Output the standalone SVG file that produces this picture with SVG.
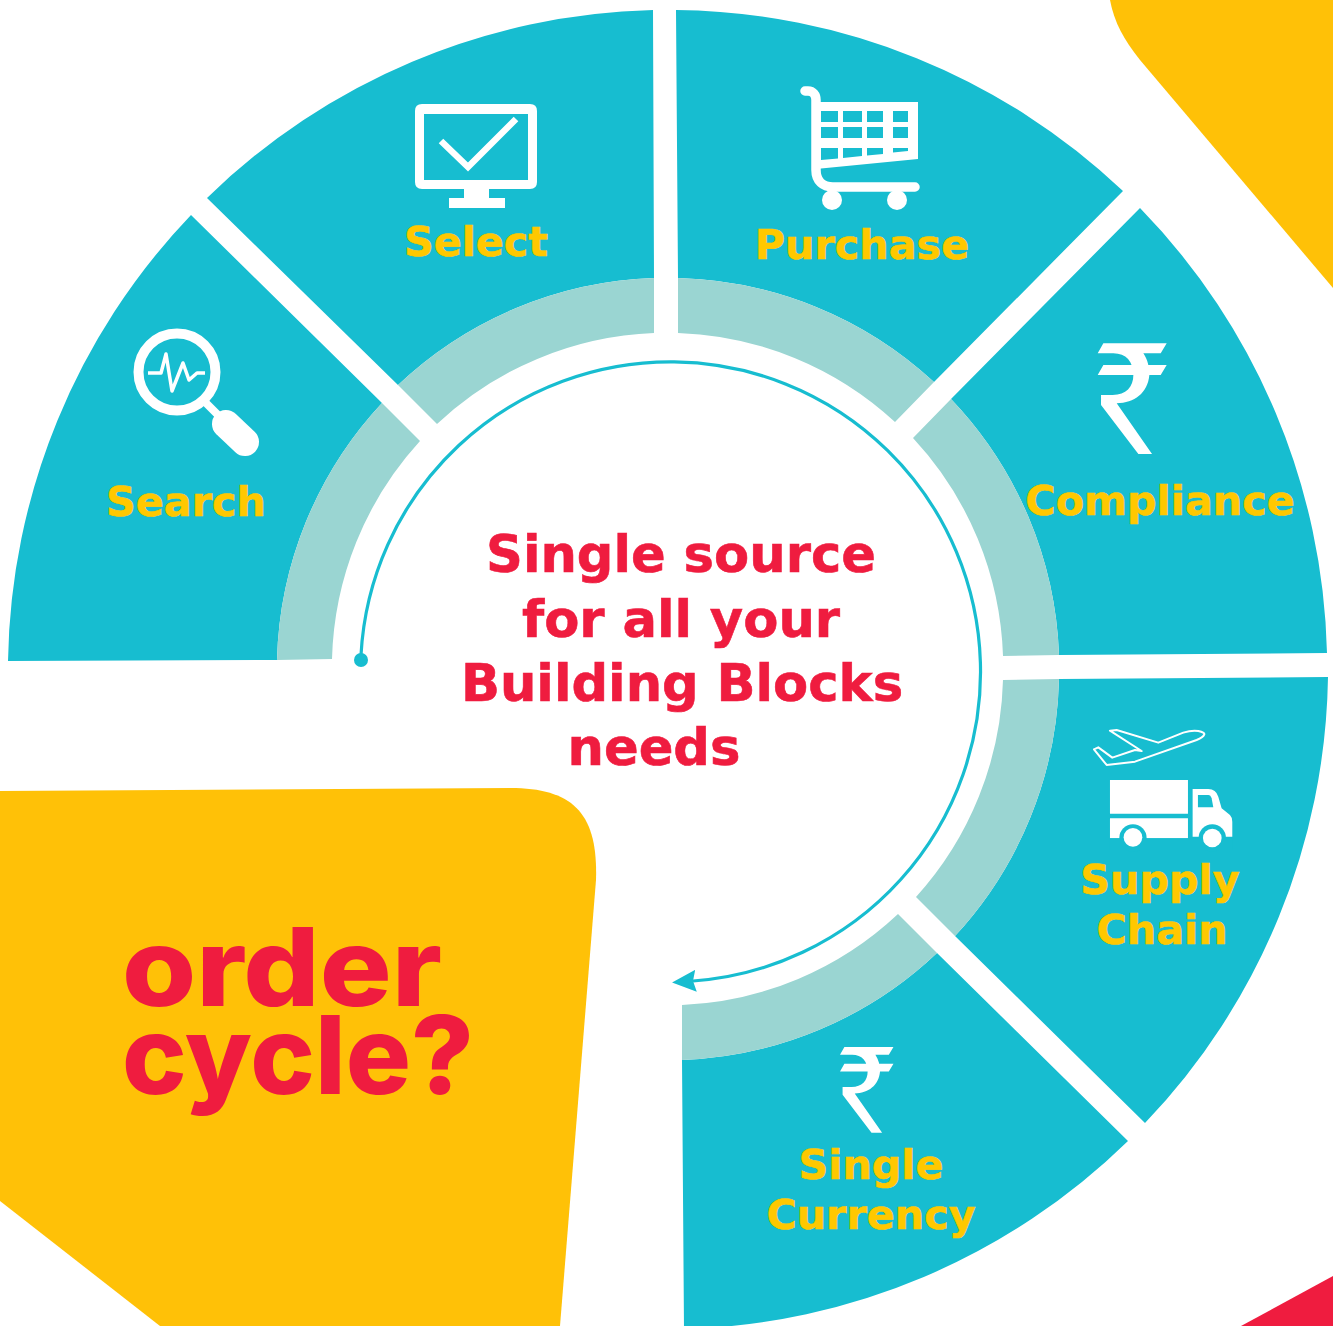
<svg xmlns="http://www.w3.org/2000/svg" width="1333" height="1326" viewBox="0 0 1333 1326">
<style>
.t{fill:#17BDD0}.p{fill:#9AD5D2}.y{fill:#FFC107}.w{fill:#fff}
.lb{font-family:"DejaVu Sans","Liberation Sans",sans-serif;font-weight:700;font-size:41.3px;fill:#FFC800;stroke:#FFC800;stroke-width:.6px;text-anchor:middle}
.ct{font-family:"DejaVu Sans","Liberation Sans",sans-serif;font-weight:700;font-size:51.2px;fill:#EF1C3F;stroke:#EF1C3F;stroke-width:.6px;text-anchor:middle}
.od{font-family:"Inter","Lato",sans-serif;font-weight:800;font-size:108px;fill:#EF1C3F}
.ws{fill:none;stroke:#fff}
</style>
<defs>
<path id="rupee" fill="#fff" d="M17 0H207L189 30H0ZM17 65H207L189 95H0ZM47 30H137C150 50 155 70 155 95C150 150 110 178 57 180L163 332H122L10 185V155H45C85 155 107 130 107 95C107 55 85 30 47 30Z"/>
<marker id="ah" markerUnits="userSpaceOnUse" markerWidth="26" markerHeight="22" refX="3" refY="11" orient="auto">
<path d="M24 11L0 0L3 11L0 22Z" fill="#17BDD0"/>
</marker>
</defs>
<rect width="1333" height="1326" fill="#fff"/>
<g id="backdrop">
<path class="y" d="M1110 0C1114 22 1124 40 1140 60L1333 288V0Z"/>
<path class="y" d="M0 791L510 788C575 788 598 815 596 880L560 1326H160L0 1201Z"/>
<path fill="#EF1C3F" d="M1333 1276L1241 1326H1333Z"/>
</g>
<g id="search">
<path class="t" d="M8 661A660 660 0 0 1 191 215L382 403A391 391 0 0 0 277 660Z"/>
<path class="p" d="M277 660A391 391 0 0 1 382 403L420 441A336 336 0 0 0 332 659Z"/>
<circle cx="177" cy="372" r="38.5" class="ws" stroke-width="10"/>
<path class="ws" stroke-width="8" d="M205 402L224 421"/>
<path class="ws" stroke-width="28" stroke-linecap="round" d="M226 424L245 442"/>
<path class="ws" stroke-width="3.500" stroke-linejoin="round" d="M148 373H161L166 354L172 391L183 363L189 380L197 373H205"/>
<text class="lb" x="186" y="516">Search</text>
</g>
<g id="select">
<path class="t" d="M207 198A660 660 0 0 1 653 10L654 278A391 391 0 0 0 398 385Z"/>
<path class="p" d="M398 385A391 391 0 0 1 654 278V333A336 336 0 0 0 437 424Z"/>
<path class="w" fill-rule="evenodd" d="M422 104H530Q537 104 537 111V182Q537 189 530 189H422Q415 189 415 182V111Q415 104 422 104ZM424 114V180H528V114Z"/>
<path class="w" d="M464 189H489V198H505V208H449V198H464Z"/>
<path class="ws" stroke-width="6.500" d="M441 141L468 167L516 119"/>
<text class="lb" x="476" y="256">Select</text>
</g>
<g id="purchase">
<path class="t" d="M676 10A660 660 0 0 1 1123 191L934 382A391 391 0 0 0 678 278Z"/>
<path class="p" d="M678 278A391 391 0 0 1 934 382L895 422A336 336 0 0 0 678 333Z"/>
<path class="ws" stroke-width="9.500" stroke-linecap="round" d="M805 91H808C813 91 816 95 816 100V170C816 181 823 187 833 187H915"/>
<path class="w" d="M816 102H918V159L816 169Z"/>
<path class="t" d="M821 111H838V122H821ZM843 111H862V122H843ZM867 111H883V122H867ZM893 111H908V122H893ZM821 127H838V138H821ZM843 127H862V138H843ZM867 127H883V138H867ZM893 127H908V138H893ZM821 148H838V158.500L821 160ZM843 148H862V156L843 158ZM867 148H883V154L867 155.500ZM893 148H908V151L893 152.500Z"/>
<circle class="w" cx="832" cy="200" r="10"/>
<circle class="w" cx="897" cy="200" r="10"/>
<text class="lb" x="862" y="259">Purchase</text>
</g>
<g id="compliance">
<path class="t" d="M1140 208A660 660 0 0 1 1327 653L1059 655A391 391 0 0 0 951 399Z"/>
<path class="p" d="M951 399A391 391 0 0 1 1059 655L1003 656A336 336 0 0 0 913 438Z"/>
<use href="#rupee" transform="translate(1097.700 343.300) scale(.3333)"/>
<text class="lb" x="1160" y="515">Compliance</text>
</g>
<g id="supply-chain">
<path class="t" d="M1328 677A660 660 0 0 1 1145 1123L955 936A391 391 0 0 0 1059 679Z"/>
<path class="p" d="M1059 679A391 391 0 0 1 955 936L916 897A336 336 0 0 0 1003 680Z"/>
<g transform="translate(820 710) scale(.3333)">
<path class="ws" stroke-width="6" stroke-linejoin="round" d="M870 62L890 60L1015 98L1090 68Q1115 60 1135 63Q1155 68 1153 73Q1150 82 1130 90L945 155L860 165L822 118L835 112L877 143L945 120L965 123Z"/>
<path class="w" d="M870 210H1104V311H870ZM870 325H1104V385H870ZM1118 237H1165Q1188 237 1195 260L1205 295L1230 315Q1237 322 1237 335V380H1118Z"/>
<path class="t" d="M1134 255H1165Q1172 255 1175 265L1180 292H1134Z"/>
<circle class="t" cx="939" cy="384" r="41"/>
<circle class="t" cx="1177" cy="384" r="41"/>
<path class="t" d="M870 385H1237V420H870Z"/>
<circle class="w" cx="939" cy="382" r="28"/>
<circle class="w" cx="1177" cy="384" r="28"/>
</g>
<text class="lb" x="1160" y="894">Supply</text>
<text class="lb" x="1162" y="944">Chain</text>
</g>
<g id="single-currency">
<path class="t" d="M1128 1141A660 660 0 0 1 684 1329L682 1060A391 391 0 0 0 937 953Z"/>
<path class="p" d="M937 953A391 391 0 0 1 682 1060V1005A336 336 0 0 0 898 914Z"/>
<use href="#rupee" transform="translate(840 1047) scale(.2583)"/>
<text class="lb" x="871" y="1179">Single</text>
<text class="lb" x="871" y="1229">Currency</text>
</g>
<g id="connectors">
<path fill="none" stroke="#17BDD0" stroke-width="3.200" marker-end="url(#ah)" d="M361 655A310 310 0 1 1 693 981"/>
<circle cx="361" cy="660" r="7" class="t"/>
</g>
<g id="center">
<text class="ct" x="681" y="572">Single source</text>
<text class="ct" x="681" y="637">for all your</text>
<text class="ct" x="682" y="701">Building Blocks</text>
<text class="ct" x="654" y="765">needs</text>
</g>
<g id="title">
<text class="od"><tspan x="122" y="1006" textLength="320" lengthAdjust="spacingAndGlyphs">order</tspan><tspan x="122" y="1094" textLength="352" lengthAdjust="spacingAndGlyphs">cycle?</tspan></text>
</g>
</svg>
